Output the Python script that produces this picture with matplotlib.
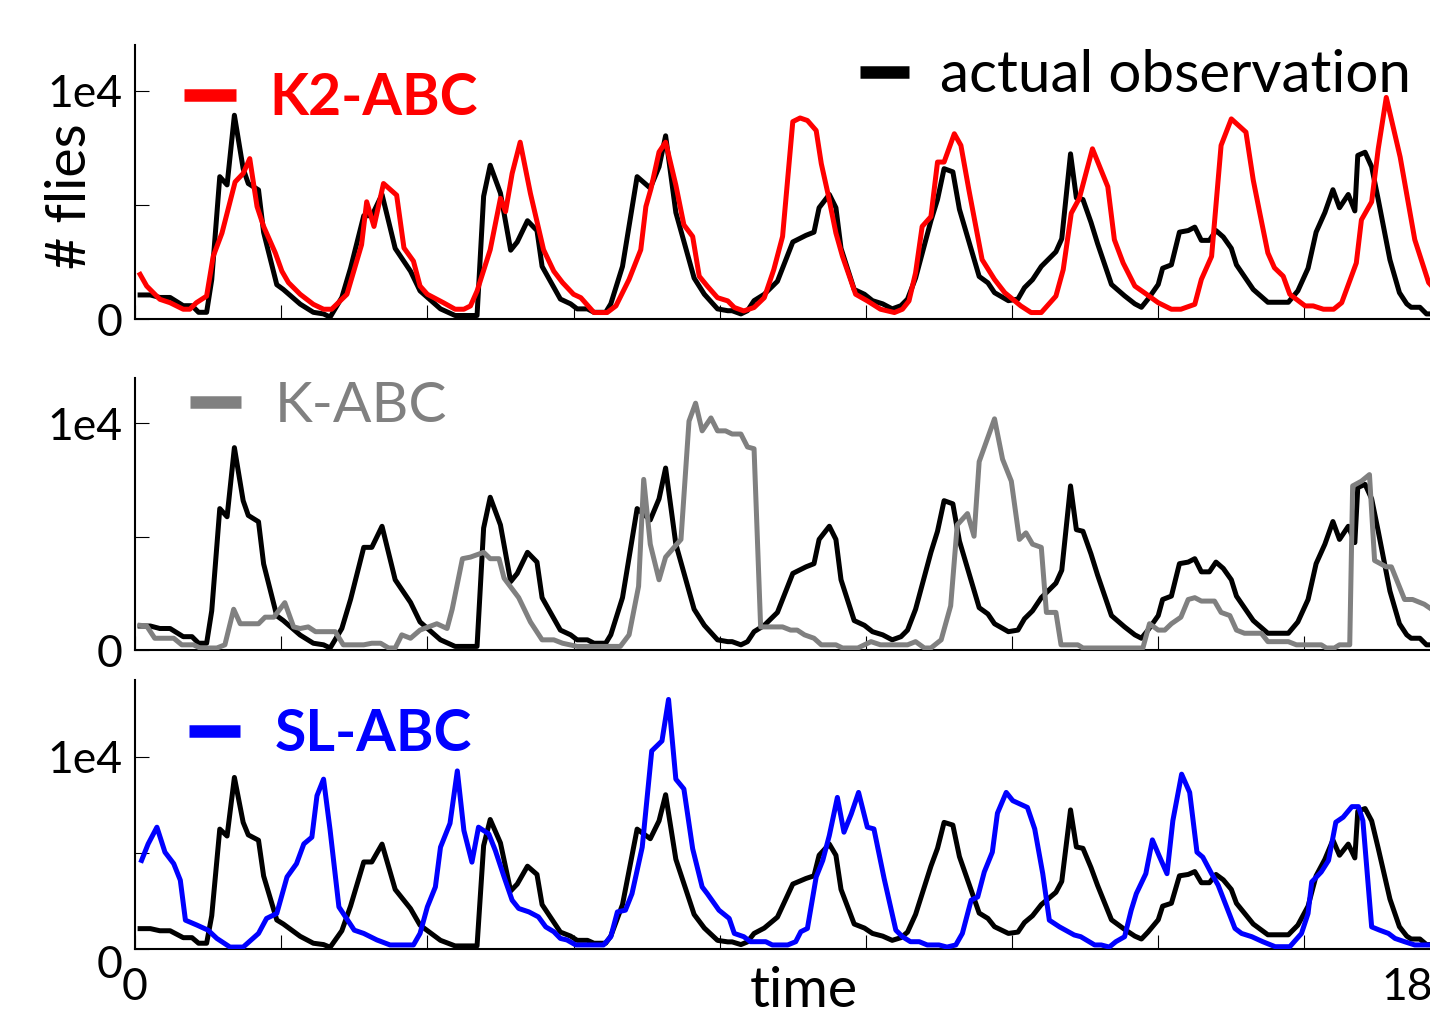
import numpy as np
import matplotlib
matplotlib.use('Agg')
import matplotlib.pyplot as plt
from matplotlib.lines import Line2D
import matplotlib.transforms as mtransforms

plt.rcParams['font.family'] = ['Lato', 'DejaVu Sans']

# actual observation (black)
obs_t = [0.7, 2.1, 3.4, 4.8, 6.6, 7.8, 8.7, 9.8, 10.5, 11.6, 12.6, 13.6, 14.8, 15.5, 16.9, 17.6,
         19.4, 20.3, 22.6, 24.4, 25.8, 26.7, 28.3, 29.5, 31.3, 32.4, 33.8, 35.6, 37.7, 39.0, 41.8,
         43.8, 46.8, 47.7, 48.6, 50.0, 51.4, 52.3, 53.7, 55.0, 55.7, 58.2, 59.6, 60.5, 61.9, 62.8,
         64.4, 65.1, 66.7, 68.7, 70.5, 71.7, 72.6, 74.0, 76.5, 77.9, 79.7, 81.1, 81.7, 82.9, 83.8,
         84.7, 86.1, 87.9, 90.0, 91.8, 92.9, 93.6, 95.0, 95.9, 96.6, 98.4, 99.8, 100.9, 102.3,
         103.6, 104.8, 105.7, 106.8, 108.9, 109.8, 110.7, 111.9, 112.8, 115.5, 116.7, 117.6,
         119.5, 120.8, 121.7, 122.8, 124.0, 124.9, 126.0, 126.8, 128.0, 128.8, 129.7, 130.8,
         131.7, 133.6, 135.4, 136.8, 137.7, 138.6, 140.0, 140.6, 141.8, 142.9, 144.1, 145.0,
         145.9, 147.0, 147.9, 148.9, 150.0, 150.7, 153.0, 155.0, 157.8, 159.1, 160.5, 161.6,
         162.8, 163.9, 164.8, 166.0, 166.9, 167.3, 168.3, 169.2, 170.1, 171.7, 173.0, 174.0,
         174.6, 175.8, 176.7, 178.0]
obs_v = [1060, 1060, 950, 950, 590, 590, 300, 300, 1730, 6240, 5880, 8930, 6590, 5940, 5660, 3800,
         1510, 1300, 660, 300, 230, 90, 950, 2240, 4530, 4530, 5460, 3100, 2100, 1240, 450,
         160, 160, 5380, 6740, 5520, 3020, 3380, 4310, 3880, 2310, 880, 670, 450, 450, 300,
         300, 670, 2310, 6240, 5740, 6670, 8030, 4670, 1800, 1090, 450, 370, 370, 230, 370,
         810, 1090, 1660, 3380, 3670, 3810, 4880, 5460, 4880, 3100, 1300, 1090, 810, 670,
         450, 590, 880, 1800, 4310, 5240, 6590, 6450, 4810, 1870, 1590, 1160,
         810, 880, 1380, 1730, 2310, 2600, 2950, 3520, 7240, 5310, 5240, 4240,
         3310, 1520, 1020, 670, 520, 880, 1520, 2230, 2380, 3810, 3880, 4030,
         3450, 3450, 3880, 3600, 3100, 2380, 1300, 740, 740, 1240, 2230, 3810,
         4670, 5670, 4880, 5460, 4740, 7170, 7310, 6670, 5240, 2600, 1160, 670,
         520, 520, 230, 230]

# K2-ABC (red)
k2_t = [0.7, 1.6, 3.4, 4.8, 6.6, 7.5, 8.4, 9.8, 10.7, 11.9, 13.7, 14.8, 15.7, 16.7, 17.6, 19.2,
        20.1, 21.0, 22.6, 24.4, 25.8, 26.9, 29.0, 31.0, 31.7, 32.7, 34.0, 35.8, 36.8, 38.1, 39.0,
        40.0, 42.2, 43.8, 45.0, 45.9, 46.8, 48.6, 50.0, 50.7, 51.6, 52.7, 54.1, 55.9, 57.3, 58.5,
        60.0, 61.0, 62.8, 64.6, 65.8, 67.6, 69.2, 69.9, 70.6, 71.7, 72.6, 74.0, 75.1, 76.3, 77.2,
        78.3, 79.7, 81.1, 82.0, 83.3, 84.7, 86.1, 87.4, 88.6, 90.0, 91.0, 92.0, 93.2, 93.9, 94.8,
        95.9, 96.8, 98.6, 100.2, 102.0, 103.9, 105.0, 105.9, 106.8, 107.7, 108.9, 109.8, 110.7,
        112.1, 113.0, 114.1, 115.9, 117.6, 119.0, 121.2, 122.6, 124.0, 126.0, 127.0, 128.1,
        129.2, 131.0, 133.1, 134.0, 135.2, 136.8, 138.4, 140.0, 141.8, 143.1, 145.0, 145.9,
        147.3, 148.6, 150.0, 152.0, 153.0, 153.9, 155.0, 155.9, 157.1, 158.0, 160.1, 161.2,
        162.6, 164.0, 165.1, 167.1, 167.8, 169.2, 170.1, 171.2, 173.1, 175.1, 177.0, 178.0]
k2_v = [1960, 1450, 870, 720, 435, 435, 720, 1010, 2750, 3770, 6010, 6380, 7030, 4930, 4060, 2900,
        2100, 1600, 1090, 650, 435, 435, 1090, 3260, 5140, 4060, 5940, 5430, 3120, 2540, 1450,
        1090, 720, 435, 435, 580, 1230, 3040, 5290, 4710, 6380, 7750, 5510, 3040, 2100, 1600,
        1090, 940, 290, 290, 580, 1740, 3040, 4930, 5720, 7320, 7750, 5870, 4130, 3620, 1880,
        1450, 940, 800, 510, 360, 510, 940, 2170, 3620, 8650, 8810, 8700, 8260, 6810, 5510,
        3770, 2750, 1090, 800, 435, 290, 435, 800, 2030, 4060, 4490, 6880, 6880,
        8120, 7610, 5650, 2610, 1740, 1160, 580, 290, 290, 1010, 2170, 4640,
        5290, 7460, 5800, 3480, 2460, 1450, 1090, 720, 435, 435, 650, 1740,
        2750, 7610, 8770, 8190, 6090, 4640, 2900, 2250, 1880, 1090, 580, 580,
        435, 435, 720, 2460, 4350, 5140, 7460, 9710, 7100, 3480, 1600, 1250]

# K-ABC (gray)
k_t = [0.7, 1.6, 2.7, 5.3, 6.4, 8.0, 8.9, 11.2, 12.3, 13.5, 14.4, 16.9, 17.8, 19.0, 20.5, 21.7,
       22.6, 23.7, 24.7, 27.4, 28.5, 31.3, 32.4, 33.6, 34.7, 35.6, 36.5, 37.7, 39.0, 41.3, 42.7,
       43.4, 44.8, 45.9, 47.7, 48.6, 49.8, 50.5, 52.5, 54.1, 55.7, 57.3, 58.5, 60.5, 66.4, 67.6,
       68.9, 69.6, 70.5, 71.7, 72.6, 74.7, 75.8, 76.7, 77.6, 78.8, 79.7, 80.8, 81.7, 82.9, 83.8,
       84.7, 85.6, 88.6, 89.7, 90.6, 91.6, 92.9, 93.9, 95.9, 96.8, 98.9, 100.7, 102.0, 105.7,
       106.8, 108.0, 108.9, 110.3, 111.6, 112.5, 113.9, 114.8, 115.5, 117.6, 118.7, 119.9,
       121.0, 121.9, 122.8, 124.0, 124.7, 126.0, 126.7, 129.0, 129.7, 137.9, 138.8, 140.0,
       140.9, 141.8, 143.1, 144.1, 145.0, 145.9, 147.7, 148.6, 149.8, 150.7, 151.8, 154.1,
       155.0, 157.8, 158.9, 162.3, 163.0, 164.1, 164.8, 166.2, 166.6, 167.8, 168.9, 169.6,
       171.2, 171.9, 173.7, 174.8, 176.4, 177.4, 178.0]
k_v = [1090, 1060, 520, 520, 230, 230, 90, 90, 230, 1800, 1160, 1160, 1450, 1450, 2090, 1020,
       950, 1020, 810, 810, 230, 230, 300, 300, 90, 90, 670, 520, 880, 1160, 950,
       1800, 4030, 4100, 4310, 4030, 4030, 3170, 2310, 1240, 450, 450, 300, 160, 160, 670,
       2810, 7530, 4670, 3100, 4100, 4880, 10100, 10890, 9670, 10240, 9670, 9670, 9530, 9530, 8960,
       8880, 1020, 1020, 880, 880, 670, 520, 230, 230, 90, 90, 370, 230, 230,
       370, 90, 90, 450, 1950, 5520, 6020, 5020, 8310, 10200, 8420, 7450,
       4880, 5170, 4670, 4530, 1660, 1660, 230, 230, 90, 90, 1160, 880,
       880, 1160, 1450, 2230, 2310, 2160, 2160, 1660, 1520, 880, 740, 740,
       370, 370, 230, 230, 90, 90, 230, 230, 7240, 7450, 7740, 3950,
       3670, 3670, 2230, 2230, 2020, 1800, 1700]

# SL-ABC (blue)
sl_t = [0.9, 1.8, 3.0, 4.1, 5.3, 6.2, 6.9, 8.5, 10.0, 11.2, 13.0, 14.8, 16.9, 18.0, 19.4, 20.8,
        22.1, 23.1, 24.2, 24.9, 25.8, 26.7, 27.9, 30.0, 31.3, 33.1, 34.9, 38.1, 39.0, 40.0, 41.1,
        41.8, 43.1, 44.1, 45.0, 46.1, 47.0, 48.4, 49.3, 50.5, 51.6, 52.5, 53.9, 55.2, 56.2, 57.3,
        58.2, 59.1, 60.3, 64.1, 65.1, 66.0, 67.1, 68.0, 69.4, 70.7, 72.1, 73.0, 74.0, 75.1, 76.3,
        77.6, 78.3, 79.9, 81.3, 82.0, 83.3, 84.2, 86.3, 87.2, 89.3, 90.4, 91.1, 92.0, 93.2, 94.1,
        95.0, 96.1, 97.0, 98.0, 99.0, 100.2, 101.1, 102.5, 104.1, 105.0, 106.1, 107.3, 108.4,
        110.0, 111.1, 112.3, 113.2, 114.4, 115.3, 116.2, 117.3, 118.0, 119.2, 120.1, 122.1,
        123.1, 124.2, 125.1, 126.5, 128.5, 129.4, 131.3, 132.2, 133.3, 134.2, 135.4, 136.3,
        137.0, 138.3, 139.2, 140.1, 141.2, 142.0, 143.2, 144.3, 145.3, 146.1, 147.3, 148.2,
        150.5, 151.4, 152.8, 154.3, 156.0, 158.0, 159.6, 160.5, 161.0, 162.3, 163.3, 164.3,
        165.3, 166.5, 167.4, 168.0, 169.2, 170.3, 171.5, 172.4, 173.7, 175.1, 178.0]
sl_v = [4610, 5470, 6340, 5040, 4440, 3580, 1500, 1240, 980, 550, 100, 100, 810, 1590, 1850, 3750,
        4440, 5470, 5820, 7980, 8840, 6170, 2190, 980, 810, 470, 210, 210, 810, 2190, 3230,
        5300, 6540, 9270, 6170, 4520, 6340, 5990, 5130, 3750, 2540, 2110, 1930, 1670, 1150, 900,
        550, 470, 210, 210, 640, 1930, 2020, 2880, 5300, 10310, 10830, 12990, 8840, 8330, 5220,
        3230, 2880, 2020, 1590, 810, 640, 380, 380, 210, 210, 380, 900, 1070, 3750, 4610,
        5910, 7890, 6080, 7030, 8150, 6340, 6250, 3660, 980, 640, 380, 380, 210,
        210, 100, 210, 810, 2540, 2710, 4010, 5040, 7070, 8150, 7720, 7370,
        6250, 3920, 1500, 1150, 730, 640, 210, 210, 100, 380, 640, 2020,
        2880, 3920, 5680, 4870, 3920, 6680, 9100, 8150, 5040, 4780, 3920, 3320,
        1070, 810, 640, 380, 120, 120, 810, 1850, 3490, 4010, 4610, 6600,
        6860, 7410, 7410, 6680, 1150, 980, 810, 550, 380, 210, 210]

models = [('K2-ABC', k2_t, k2_v, '#ff0000', 'bold'),
          ('K-ABC', k_t, k_v, '#808080', 'normal'),
          ('SL-ABC', sl_t, sl_v, '#0000ff', 'bold')]
ytops = [12000, 12000, 14000]

fig = plt.figure(figsize=(14.3, 10.1), dpi=100)
# axes run a little past the right figure edge, like the cropped original
boxes = [[0.0944, 0.684, 0.92, 0.2713],
         [0.0944, 0.3564, 0.92, 0.2693],
         [0.0944, 0.0604, 0.92, 0.2663]]
leg_pos = [(0.0375, 0.902), (0.0415, 0.99), (0.041, 0.895)]

axes = []
for i, (name, t, v, col, wt) in enumerate(models):
    ax = fig.add_axes(boxes[i])
    ax.plot(obs_t, obs_v, color='black', lw=3.6, zorder=2)
    ax.plot(t, v, color=col, lw=3.6, zorder=3)
    ax.set_xlim(0, 180)
    ax.set_ylim(0, ytops[i])
    ax.spines['top'].set_visible(False)
    ax.spines['right'].set_visible(False)
    ax.spines['left'].set_linewidth(1.5)
    ax.spines['bottom'].set_linewidth(1.5)
    ax.set_xticks(range(0, 181, 20))
    ax.set_yticks([0, 5000, 10000])
    ax.set_yticklabels(['0', '', '1e4'])
    ax.tick_params(direction='in', length=10, width=0.8, labelsize=32, pad=9)
    if i < 2:
        ax.set_xticklabels([])
    else:
        ax.set_xticklabels(['0'] + [''] * 8 + ['180'])
        ax.tick_params(axis='x', pad=13)

    h = Line2D([], [], color=col, lw=9, solid_capstyle='butt')
    leg = ax.legend([h], [name], loc='upper left', bbox_to_anchor=leg_pos[i],
                    frameon=False, handlelength=0.9, handletextpad=0.6,
                    borderpad=0, borderaxespad=0, labelcolor=col,
                    prop={'weight': wt, 'size': 41})
    axes.append(ax)

# second legend for the observation line on the top panel
ax1 = axes[0]
first = ax1.get_legend()
h_obs = Line2D([], [], color='black', lw=9, solid_capstyle='butt')
ax1.legend([h_obs], ['actual observation'], loc='upper left', bbox_to_anchor=(0.551, 0.985),
           frameon=False, handlelength=0.85, handletextpad=0.52, borderpad=0,
           borderaxespad=0, prop={'size': 42})
ax1.add_artist(first)

ax1.set_ylabel('# flies', fontsize=40)
ax1.yaxis.set_label_coords(-0.03, 0.45)

ax3 = axes[2]
ax3.set_xlabel('time', fontsize=40)
ax3.xaxis.set_label_coords(0.508, -0.062)

# the bottom panel's y "0" sits a bit lower, and "180" a bit left, in the original
lab0 = ax3.get_yticklabels()[0]
lab0.set_transform(lab0.get_transform() + mtransforms.ScaledTranslation(0, -0.13, fig.dpi_scale_trans))
lab180 = ax3.get_xticklabels()[-1]
lab180.set_transform(lab180.get_transform() + mtransforms.ScaledTranslation(-0.30, 0, fig.dpi_scale_trans))

fig.savefig('out.png', dpi=100)
